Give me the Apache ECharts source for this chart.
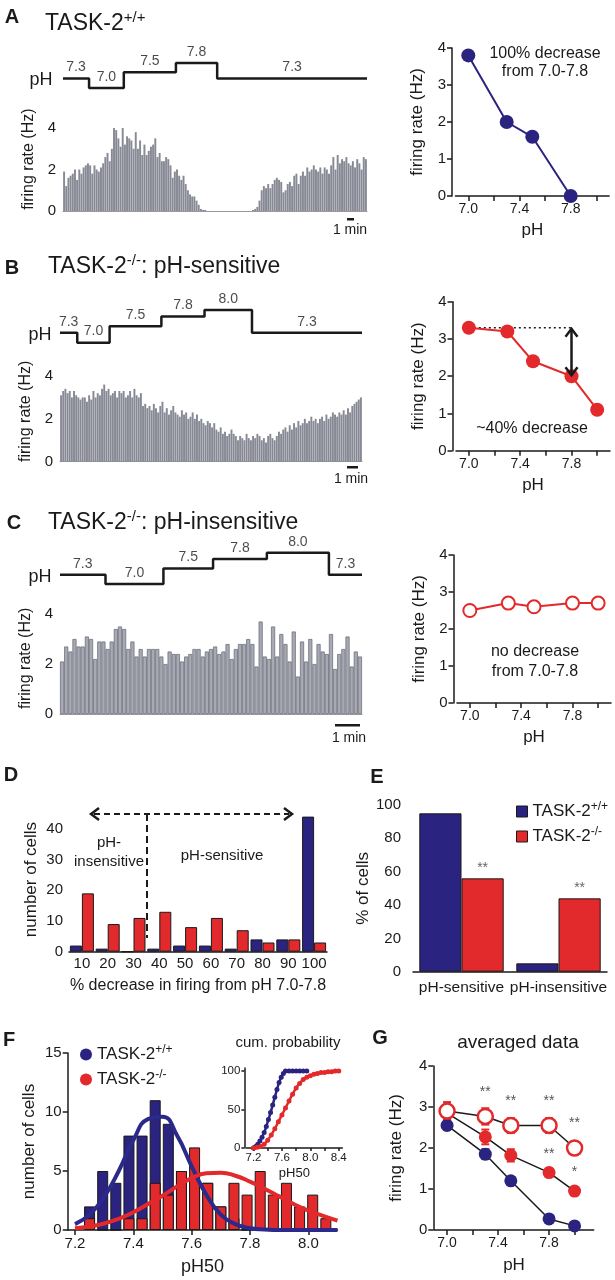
<!DOCTYPE html>
<html>
<head>
<meta charset="utf-8">
<script src="https://cdn.jsdelivr.net/npm/echarts@6/dist/echarts.min.js"></script>
<style>
  html, body { margin: 0; padding: 0; background: #fff; }
  #chart { width: 615px; height: 1280px; }
</style>
</head>
<body>
<div id="chart"></div>
<script>
// ---- A: TASK-2+/+ example cell (bins of ~20 s)
const rateA = [1.9,1.2,1.6,1.7,1.8,2.0,1.5,2.0,1.8,2.1,
  2.2,2.3,2.2,1.8,2.2,2.0,1.9,
  2.1,2.3,2.6,2.8,2.4,3.0,
  4.0,3.9,3.5,3.1,4.0,
  3.2,3.6,3.5,3.4,3.0,3.8,
  3.0,3.4,2.7,3.2,
  2.7,2.9,3.1,3.2,3.5,
  2.6,2.8,2.4,2.4,2.6,
  2.5,2.2,1.6,1.9,2.0,1.7,
  1.5,1.7,1.3,1.0,
  0.8,0.7,0.7,0.5,0.3,0.1,
  0.05,0.05,
  0,0,0,0,0,0,0,0,0,0,0,0,0,0,0,0,0,0,0,0,0,
  0.05,0.1,0.2,0.5,
  1.0,1.2,1.1,1.3,1.1,
  1.3,1.5,1.6,1.5,1.4,0.9,
  1.0,1.3,1.4,1.2,1.7,
  1.8,1.3,1.7,1.9,1.7,2.1,
  1.9,2.0,2.2,2.0,1.9,2.1,
  1.8,2.1,2.0,1.8,2.2,2.6,
  2.0,2.7,2.3,2.5,2.4,2.6,2.3,
  2.2,2.4,2.1,2.5,2.3,2.0,2.6,2.5];
const stepsA = [[0, 7.3], [12, 7.0], [28, 7.5], [52, 7.8], [71, 7.3], [140, 7.3]];
const phA = [7.0, 7.3, 7.5, 7.8];
const meanA = [3.8, 2.0, 1.6, 0];

// ---- B: TASK-2-/- pH-sensitive cell
const rateB = [3.1,3.3,3.4,3.2,3.3,3.0,3.3,3.1,3.0,2.9,3.0,3.0,2.8,3.1,2.9,3.3,3.0,3.2,3.1,3.4,
  3.6,3.3,3.4,3.1,3.2,3.3,3.0,3.3,3.2,3.3,3.0,3.1,3.3,3.0,3.4,3.1,3.0,3.2,2.6,2.7,
  2.5,2.6,2.4,2.7,2.5,2.3,2.6,2.8,2.3,2.5,2.2,2.4,2.6,2.3,2.2,2.1,2.4,2.2,2.3,2.0,
  2.1,2.3,2.0,2.2,1.9,2.0,1.8,1.7,1.9,1.8,1.6,1.8,1.5,1.4,1.6,1.3,1.4,1.2,1.3,1.5,
  1.3,1.2,1.0,1.2,1.1,1.0,1.3,1.1,1.0,1.2,1.1,1.3,1.2,1.0,1.1,0.9,1.2,1.3,1.1,1.0,
  1.2,1.4,1.3,1.5,1.6,1.4,1.7,1.5,1.8,1.6,1.9,1.7,1.8,2.0,1.8,1.9,2.1,1.9,2.0,1.8,
  2.0,2.1,1.9,2.2,2.0,2.1,2.3,2.2,2.1,2.3,2.2,2.4,2.2,2.5,2.3,2.6,2.7,2.8,2.9,3.0];
const stepsB = [[0, 7.3], [8, 7.0], [23, 7.5], [47, 7.8], [67, 8.0], [89, 7.3], [140, 7.3]];
const phB = [7.0, 7.3, 7.5, 7.8, 8.0];
const meanB = [3.3, 3.2, 2.4, 2.0, 1.1];

// ---- C: TASK-2-/- pH-insensitive cell
const rateC = [2.1,2.7,2.5,3.0,2.7,2.7,3.1,3.0,2.2,2.9,
  2.9,2.6,2.9,3.4,3.5,3.4,2.6,2.9,2.3,2.6,
  2.3,2.6,2.6,2.6,2.3,2.0,2.5,2.4,2.4,2.1,
  2.3,2.4,2.6,2.6,2.3,2.5,2.6,2.7,2.4,2.5,
  2.8,2.2,2.6,2.8,2.8,3.0,2.8,1.9,3.7,2.3,
  2.2,3.5,2.3,3.2,2.8,2.1,3.3,1.5,2.9,2.1,
  3.0,2.0,2.8,
  2.5,2.4,3.2,1.8,2.4,2.6,3.1,1.9,2.5,2.3];
const stepsC = [[0, 7.3], [11, 7.0], [25, 7.5], [37, 7.8], [50, 8.0], [65, 7.3], [73, 7.3]];
const phC = [7.0, 7.3, 7.5, 7.8, 8.0];
const meanC = [2.5, 2.7, 2.6, 2.7, 2.7];

// ---- D: % decrease histogram
const decreaseBins = ['10', '20', '30', '40', '50', '60', '70', '80', '90', '100'];
const cellsWT = [2, 1, 0, 1, 2, 2, 1, 4, 4, 44];
const cellsKO = [19, 9, 11, 13, 8, 11, 7, 3, 4, 3];

// ---- E: % of cells
const groupsE = ['pH-sensitive', 'pH-insensitive'];
const pctWT = [95, 5];
const pctKO = [56, 44];
const sigE = ['**', '**'];

// ---- F: pH50 histogram, fits, cumulative probability
const pH50Bins = [7.25, 7.295, 7.34, 7.385, 7.43, 7.475, 7.52, 7.565, 7.61, 7.655,
  7.70, 7.745, 7.79, 7.835, 7.88, 7.925, 7.97, 8.015, 8.06];
const countWT = [2, 5, 4, 8, 8, 11, 9, 5, 4, 4, 2, 1, 0, 0, 0, 0, 0, 0, 0];
const countKO = [1, 0, 0, 1, 1, 4, 3, 5, 7, 4, 2, 4, 3, 5, 3, 4, 2, 3, 1];
const fitX = [7.20, 7.25, 7.30, 7.35, 7.40, 7.45, 7.50, 7.55, 7.60, 7.65,
  7.70, 7.75, 7.80, 7.85, 7.90, 7.95, 8.00, 8.05, 8.10];
const fitWT = [0.5, 1.3, 2.8, 5.0, 7.6, 9.4, 9.6, 8.0, 5.4, 3.0, 1.3, 0.5, 0.15, 0.05, 0, 0, 0, 0, 0];
const fitKO = [0.15, 0.3, 0.55, 0.95, 1.5, 2.2, 2.9, 3.7, 4.4, 4.8, 4.85, 4.6, 4.1, 3.5, 2.85, 2.2, 1.65, 1.2, 0.8];
const cumWT = [[7.20,0],[7.23,2],[7.26,5],[7.29,9],[7.32,14],[7.35,20],[7.38,28],[7.41,37],[7.44,46],[7.47,56],
  [7.50,66],[7.53,76],[7.56,85],[7.59,92],[7.62,97],[7.65,100],[7.70,100],[7.75,100],[7.80,100],[7.85,100],[7.90,100],[7.95,100]];
const cumKO = [[7.20,0],[7.25,1],[7.30,2],[7.35,5],[7.40,10],[7.45,17],[7.50,25],[7.55,34],[7.60,43],[7.65,52],
  [7.70,61],[7.75,70],[7.80,78],[7.85,84],[7.90,89],[7.95,92],[8.00,94],[8.05,96],[8.10,97],[8.15,98],
  [8.20,98],[8.25,99],[8.30,99],[8.35,100],[8.40,100]];

// ---- G: averaged data
const phG = [7.0, 7.3, 7.5, 7.8, 8.0];
const avgWT = [2.55, 1.85, 1.2, 0.27, 0.1];
const semWT = [0.1, 0.12, 0.08, 0.05, 0.05];
const avgSens = [2.85, 2.27, 1.82, 1.4, 0.95];
const semSens = [0.15, 0.18, 0.15, 0.1, 0.1];
const avgIns = [2.9, 2.77, 2.55, 2.55, 2.0];
const semIns = [0.22, 0.2, 0.18, 0.18, 0.15];
const starsSens = ['', '', '', '**', '*'];
const starsIns = ['', '**', '**', '**', '**'];

const FF = '"Liberation Sans", Arial, Helvetica, sans-serif';
const NAVY = '#2a2380';
const RED = '#e2292b';
const INK = '#1a1a1a';
const BARGRAY = '#878995';

const chart = echarts.init(document.getElementById('chart'));

function axis(gridIndex, extra) {
  const a = {
    gridIndex,
    nameLocation: 'middle',
    axisLine: { lineStyle: { color: INK, width: 1.5 } },
    axisTick: { length: 5, lineStyle: { color: INK, width: 1.5 } },
    axisLabel: { color: INK, fontSize: 14, fontFamily: FF, margin: 6 },
    splitLine: { show: false },
    nameTextStyle: { color: INK, fontSize: 16, fontFamily: FF },
  };
  for (const k in extra) {
    const v = extra[k];
    if (a[k] && typeof a[k] === 'object' && v && typeof v === 'object' && !Array.isArray(v)) {
      a[k] = Object.assign({}, a[k], v);
    } else {
      a[k] = v;
    }
  }
  return a;
}
const hidden = (gi, min, max) => ({ gridIndex: gi, type: 'value', min, max, show: false });
const pHfmt = v => v.toFixed(1);

function stepLabels(steps) {
  const out = [];
  for (let i = 0; i < steps.length - 1; i++) {
    out.push([(steps[i][0] + steps[i + 1][0]) / 2, steps[i][1]]);
  }
  return out;
}

const grids = [
  { left: 63, top: 53.6, width: 304, height: 37.5 },     // 0 A trace
  { left: 63, top: 107.3, width: 304, height: 103.7 },   // 1 A hist
  { left: 455.5, top: 48, width: 153.6, height: 148 },   // 2 A right
  { left: 60, top: 306.7, width: 302, height: 39.2 },    // 3 B trace
  { left: 60, top: 361, width: 302, height: 100.7 },     // 4 B hist
  { left: 456, top: 301.7, width: 154, height: 149 },    // 5 B right
  { left: 60, top: 549.6, width: 302, height: 37.6 },    // 6 C trace
  { left: 60, top: 602.75, width: 302, height: 111.25 }, // 7 C hist
  { left: 457, top: 555, width: 154, height: 148 },      // 8 C right
  { left: 69, top: 807.4, width: 258, height: 144.3 },   // 9 D
  { left: 413, top: 805, width: 194, height: 166.7 },    // 10 E
  { left: 67.7, top: 1053, width: 269.8, height: 177 },  // 11 F
  { left: 246.4, top: 1068, width: 95.9, height: 80 },   // 12 F inset
  { left: 434.3, top: 1066, width: 159.4, height: 164 }, // 13 G
].map(g => Object.assign({ outerBoundsMode: 'none', containLabel: false }, g));

const xAxes = [];
const yAxes = [];

function traceAxes(gi, n) {
  xAxes[gi] = hidden(gi, 0, n);
  yAxes[gi] = hidden(gi, 6.9, 8.1);
}
function histAxes(gi, values, ymax) {
  xAxes[gi] = axis(gi, {
    type: 'category', data: values.map((_, i) => i),
    axisLine: { lineStyle: { color: '#9a9a9a', width: 1 } },
    axisTick: { show: false }, axisLabel: { show: false },
  });
  yAxes[gi] = axis(gi, {
    type: 'value', min: 0, max: ymax, offset: 2,
    name: 'firing rate (Hz)', nameGap: 24,
    axisLine: { lineStyle: { color: INK, width: 2 } },
    axisTick: { customValues: [0, 2, 4], length: 4, lineStyle: { color: INK, width: 1.5 } },
    axisLabel: { customValues: [0, 2, 4], fontSize: 15, margin: 5 },
  });
}
function rightAxes(gi) {
  xAxes[gi] = axis(gi, {
    type: 'value', min: 6.9, max: 8.1, name: 'pH', nameGap: 26,
    nameTextStyle: { fontSize: 17 },
    axisTick: { customValues: [7.0, 7.2, 7.4, 7.6, 7.8, 8.0] },
    axisLabel: { customValues: [7.0, 7.4, 7.8], formatter: pHfmt },
  });
  yAxes[gi] = axis(gi, {
    type: 'value', min: 0, max: 4, offset: 3.5, name: 'firing rate (Hz)', nameGap: 26,
    nameTextStyle: { fontSize: 17 },
    axisTick: { customValues: [0, 1, 2, 3, 4] },
    axisLabel: { customValues: [0, 1, 2, 3, 4], fontSize: 15 },
  });
}

traceAxes(0, rateA.length); histAxes(1, rateA, 5); rightAxes(2);
traceAxes(3, rateB.length); histAxes(4, rateB, 4.7); rightAxes(5);
traceAxes(6, rateC.length); histAxes(7, rateC, 4.45); rightAxes(8);

xAxes[9] = axis(9, {
  type: 'category', data: decreaseBins,
  name: '% decrease in firing from pH 7.0-7.8', nameGap: 26,
  axisLabel: { fontSize: 15, margin: 5, interval: 0 },
  axisTick: { interval: 0 },
  nameTextStyle: { fontSize: 16 },
});
yAxes[9] = axis(9, {
  type: 'value', min: 0, max: 47, name: 'number of cells', nameGap: 29,
  nameTextStyle: { fontSize: 17 },
  axisTick: { customValues: [0, 10, 20, 30, 40] },
  axisLabel: { customValues: [0, 10, 20, 30, 40], fontSize: 15 },
});

xAxes[10] = axis(10, {
  type: 'category', data: groupsE, axisTick: { show: false },
  axisLabel: { fontSize: 15.5, margin: 8, interval: 0 },
});
yAxes[10] = axis(10, {
  type: 'value', min: 0, max: 100, offset: 6, name: '% of cells', nameGap: 31,
  nameTextStyle: { fontSize: 17 },
  axisTick: { customValues: [0, 20, 40, 60, 80, 100] },
  axisLabel: { customValues: [0, 20, 40, 60, 80, 100], fontSize: 15 },
});

xAxes[11] = axis(11, {
  type: 'value', min: 7.175, max: 8.1, name: 'pH50', nameGap: 28,
  nameTextStyle: { fontSize: 18 },
  axisTick: { customValues: [7.2, 7.4, 7.6, 7.8, 8.0] },
  axisLabel: { customValues: [7.2, 7.4, 7.6, 7.8, 8.0], formatter: pHfmt, fontSize: 15 },
});
yAxes[11] = axis(11, {
  type: 'value', min: 0, max: 15, name: 'number of cells', nameGap: 30,
  nameTextStyle: { fontSize: 17 },
  axisTick: { customValues: [0, 5, 10, 15] },
  axisLabel: { customValues: [0, 5, 10, 15], fontSize: 15 },
});

xAxes[12] = axis(12, {
  type: 'value', min: 7.1, max: 8.45, name: 'pH50', nameGap: 19,
  nameTextStyle: { fontSize: 13 },
  axisTick: { customValues: [7.2, 7.4, 7.6, 7.8, 8.0, 8.2, 8.4], length: 3 },
  axisLabel: { customValues: [7.2, 7.6, 8.0, 8.4], formatter: pHfmt, fontSize: 11.5, margin: 4 },
});
yAxes[12] = axis(12, {
  type: 'value', min: 0, max: 104, offset: 2,
  axisTick: { customValues: [0, 50, 100], length: 3 },
  axisLabel: { customValues: [0, 50, 100], fontSize: 11.5, margin: 4 },
});

xAxes[13] = axis(13, {
  type: 'value', min: 6.9, max: 8.15, name: 'pH', nameGap: 27,
  nameTextStyle: { fontSize: 17 },
  axisTick: { customValues: [7.0, 7.2, 7.4, 7.6, 7.8, 8.0] },
  axisLabel: { customValues: [7.0, 7.4, 7.8], formatter: pHfmt },
});
yAxes[13] = axis(13, {
  type: 'value', min: 0, max: 4, offset: 1, name: 'firing rate (Hz)', nameGap: 28,
  nameTextStyle: { fontSize: 17 },
  axisTick: { customValues: [0, 1, 2, 3, 4] },
  axisLabel: { customValues: [0, 1, 2, 3, 4], fontSize: 15 },
});

const series = [];

function addTrace(gi, steps) {
  series.push({
    type: 'line', xAxisIndex: gi, yAxisIndex: gi, data: steps, step: 'end',
    symbol: 'none', lineStyle: { color: INK, width: 2.5 }, silent: true,
  });
  series.push({
    type: 'scatter', xAxisIndex: gi, yAxisIndex: gi, data: stepLabels(steps), symbolSize: 0,
    label: { show: true, position: 'top', distance: 4, formatter: p => p.value[1].toFixed(1),
      fontSize: 14, fontFamily: FF, color: INK },
  });
}
function addHist(gi, values, wide) {
  series.push({
    type: 'bar', xAxisIndex: gi, yAxisIndex: gi, data: values,
    barCategoryGap: wide ? '0%' : '10%',
    itemStyle: wide ? { color: '#a7a9b3', borderColor: '#6f717d', borderWidth: 0.8 } : { color: BARGRAY },
  });
}
function addDose(gi, xs, ys, color, open) {
  series.push({
    type: 'line', xAxisIndex: gi, yAxisIndex: gi, data: xs.map((x, i) => [x, ys[i]]),
    symbol: 'circle', symbolSize: open ? 13 : 14, clip: false,
    lineStyle: { color, width: 2 },
    itemStyle: open ? { color: '#fff', borderColor: color, borderWidth: 2 } : { color },
  });
}

addTrace(0, stepsA); addHist(1, rateA, false); addDose(2, phA, meanA, NAVY, false);
addTrace(3, stepsB); addHist(4, rateB, false);
series.push({
  type: 'line', xAxisIndex: 5, yAxisIndex: 5, symbol: 'none',
  data: [[phB[0], meanB[0]], [phB[3], meanB[0]]],
  lineStyle: { color: INK, width: 1.5, type: [2, 3] },
});
addDose(5, phB, meanB, RED, false);
series.push({
  type: 'custom', xAxisIndex: 5, yAxisIndex: 5, z: 5,
  data: [[phB[3], meanB[0], meanB[3]]],
  encode: { x: 0, y: [1, 2] },
  renderItem(params, api) {
    const top = api.coord([api.value(0), api.value(1)]);
    const bot = api.coord([api.value(0), api.value(2)]);
    const st = { stroke: INK, lineWidth: 2.5, fill: null };
    return {
      type: 'group', children: [
        { type: 'line', shape: { x1: top[0], y1: top[1] + 1, x2: bot[0], y2: bot[1] - 1 }, style: st },
        { type: 'polyline', shape: { points: [[top[0] - 6, top[1] + 9], [top[0], top[1] + 1], [top[0] + 6, top[1] + 9]] }, style: st },
        { type: 'polyline', shape: { points: [[bot[0] - 6, bot[1] - 9], [bot[0], bot[1] - 1], [bot[0] + 6, bot[1] - 9]] }, style: st },
      ],
    };
  },
});
addTrace(6, stepsC); addHist(7, rateC, true); addDose(8, phC, meanC, RED, true);

// D
series.push({
  type: 'bar', name: 'D-WT', xAxisIndex: 9, yAxisIndex: 9, data: cellsWT,
  barGap: '0%', barCategoryGap: '7%',
  itemStyle: { color: NAVY, borderColor: INK, borderWidth: 1 },
});
series.push({
  type: 'bar', name: 'D-KO', xAxisIndex: 9, yAxisIndex: 9, data: cellsKO,
  barGap: '0%', barCategoryGap: '7%',
  itemStyle: { color: RED, borderColor: INK, borderWidth: 1 },
});

// E
series.push({
  type: 'bar', name: 'TASK-2+/+', xAxisIndex: 10, yAxisIndex: 10, data: pctWT,
  barGap: '0%', barCategoryGap: '13%',
  itemStyle: { color: NAVY, borderColor: INK, borderWidth: 1 },
});
series.push({
  type: 'bar', name: 'TASK-2-/-', xAxisIndex: 10, yAxisIndex: 10, data: pctKO,
  barGap: '0%', barCategoryGap: '13%',
  itemStyle: { color: RED, borderColor: INK, borderWidth: 1 },
  label: { show: true, position: 'top', distance: 3, formatter: p => sigE[p.dataIndex],
    fontSize: 14, color: '#666', fontFamily: FF },
});

// F
series.push({
  type: 'bar', name: 'TASK-2+/+', xAxisIndex: 11, yAxisIndex: 11,
  data: pH50Bins.map((x, i) => [x, countWT[i]]), barWidth: 11, barGap: '-100%',
  itemStyle: { color: NAVY, borderColor: INK, borderWidth: 1 },
});
series.push({
  type: 'bar', name: 'TASK-2-/-', xAxisIndex: 11, yAxisIndex: 11,
  data: pH50Bins.map((x, i) => [x, countKO[i]]), barWidth: 11, barGap: '-100%',
  itemStyle: { color: RED, borderColor: INK, borderWidth: 1 },
});
series.push({
  type: 'line', name: 'fitWT', xAxisIndex: 11, yAxisIndex: 11, smooth: true, symbol: 'none',
  data: fitX.map((x, i) => [x, fitWT[i]]), lineStyle: { color: '#2b2a8c', width: 4 }, z: 4,
});
series.push({
  type: 'line', name: 'fitKO', xAxisIndex: 11, yAxisIndex: 11, smooth: true, symbol: 'none',
  data: fitX.map((x, i) => [x, fitKO[i]]), lineStyle: { color: RED, width: 4 }, z: 5,
});
series.push({
  type: 'line', name: 'cumWT', xAxisIndex: 12, yAxisIndex: 12, smooth: 0.3, data: cumWT,
  symbol: 'circle', symbolSize: 5, lineStyle: { color: NAVY, width: 2.5 }, itemStyle: { color: NAVY },
});
series.push({
  type: 'line', name: 'cumKO', xAxisIndex: 12, yAxisIndex: 12, smooth: 0.3, data: cumKO,
  symbol: 'circle', symbolSize: 5, lineStyle: { color: RED, width: 2.5 }, itemStyle: { color: RED },
});

// G
function errorBars(xs, ys, es, color) {
  return {
    type: 'custom', xAxisIndex: 13, yAxisIndex: 13, z: 1,
    data: xs.map((x, i) => [x, ys[i] - es[i], ys[i] + es[i]]),
    encode: { x: 0, y: [1, 2] },
    renderItem(params, api) {
      const lo = api.coord([api.value(0), api.value(1)]);
      const hi = api.coord([api.value(0), api.value(2)]);
      const st = { stroke: color, lineWidth: 2 };
      return {
        type: 'group', children: [
          { type: 'line', shape: { x1: lo[0], y1: lo[1], x2: hi[0], y2: hi[1] }, style: st },
          { type: 'line', shape: { x1: hi[0] - 4, y1: hi[1], x2: hi[0] + 4, y2: hi[1] }, style: st },
          { type: 'line', shape: { x1: lo[0] - 4, y1: lo[1], x2: lo[0] + 4, y2: lo[1] }, style: st },
        ],
      };
    },
  };
}
series.push(errorBars(phG, avgWT, semWT, NAVY));
series.push(errorBars(phG, avgSens, semSens, RED));
series.push(errorBars(phG, avgIns, semIns, RED));
const starLabel = (stars, dist) => ({
  show: true, position: 'top', distance: dist, formatter: p => stars[p.dataIndex],
  fontSize: 14, color: '#555', fontFamily: FF,
});
series.push({
  type: 'line', xAxisIndex: 13, yAxisIndex: 13, data: phG.map((x, i) => [x, avgWT[i]]),
  symbol: 'circle', symbolSize: 13, clip: false, z: 3,
  lineStyle: { color: INK, width: 1.5 }, itemStyle: { color: NAVY },
});
series.push({
  type: 'line', xAxisIndex: 13, yAxisIndex: 13, data: phG.map((x, i) => [x, avgSens[i]]),
  symbol: 'circle', symbolSize: 13, clip: false, z: 3,
  lineStyle: { color: INK, width: 1.5 }, itemStyle: { color: RED },
  label: starLabel(starsSens, 5),
});
series.push({
  type: 'line', xAxisIndex: 13, yAxisIndex: 13, data: phG.map((x, i) => [x, avgIns[i]]),
  symbol: 'circle', symbolSize: 15, clip: false, z: 4,
  lineStyle: { color: INK, width: 1.5 },
  itemStyle: { color: '#fff', borderColor: RED, borderWidth: 2.5 },
  label: starLabel(starsIns, 9),
});

// ---- text, letters and annotations
const supRich = (big, small, raise) => ({
  a: { fontSize: big, fontFamily: FF, color: INK, lineHeight: big + 4 },
  s: { fontSize: small, fontFamily: FF, color: INK, lineHeight: small, verticalAlign: 'top', padding: [raise, 0, 0, 0] },
});
const titleRich = supRich(23, 15, 0);
const txt = (x, y, text, size, extra) => ({
  type: 'text', x, y, silent: true,
  style: Object.assign({ text, fontSize: size, fontFamily: FF, fill: INK, align: 'center', verticalAlign: 'middle' }, extra || {}),
});
const letter = (x, y, t) => txt(x, y, t, 20, { fontWeight: 'bold' });
const title = (x, y, text) => ({
  type: 'text', x, y, silent: true,
  style: { text, rich: titleRich, align: 'left', verticalAlign: 'middle', fill: INK },
});
const lineG = (x1, y1, x2, y2, w, dash) => ({
  type: 'line', silent: true, shape: { x1, y1, x2, y2 },
  style: { stroke: INK, lineWidth: w, lineDash: dash || null },
});
const poly = (pts, w) => ({
  type: 'polyline', silent: true, shape: { points: pts },
  style: { stroke: INK, lineWidth: w, fill: null },
});

const graphic = [
  letter(12, 17, 'A'), title(45, 24, '{a|TASK-2}{s|+/+}'),
  letter(12, 268, 'B'), title(48, 267, '{a|TASK-2}{s|-/-}{a|: pH-sensitive}'),
  letter(14, 523, 'C'), title(48, 523, '{a|TASK-2}{s|-/-}{a|: pH-insensitive}'),
  letter(11, 775, 'D'), letter(377, 777, 'E'), letter(9, 1040, 'F'), letter(380, 1038, 'G'),
  txt(41, 80, 'pH', 18), txt(40, 335, 'pH', 18), txt(40, 577, 'pH', 18),
  // scale bars
  { type: 'rect', silent: true, shape: { x: 347, y: 218, width: 7, height: 2.5 }, style: { fill: INK } },
  txt(350, 230, '1 min', 14),
  { type: 'rect', silent: true, shape: { x: 347, y: 466, width: 11, height: 2.5 }, style: { fill: INK } },
  txt(351, 479, '1 min', 14),
  { type: 'rect', silent: true, shape: { x: 335, y: 724, width: 25, height: 2.5 }, style: { fill: INK } },
  txt(349, 738, '1 min', 14),
  // right-panel notes
  txt(545, 54, '100% decrease', 16), txt(545, 72, 'from 7.0-7.8', 16),
  txt(532, 429, '~40% decrease', 16),
  txt(535, 652, 'no decrease', 16), txt(535, 672, 'from 7.0-7.8', 16),
  // D annotations
  lineG(94, 814, 289, 814, 2, [6, 4]),
  poly([[99, 808], [91, 814], [99, 820]], 2.5),
  poly([[284, 808], [292, 814], [284, 820]], 2.5),
  lineG(147, 814, 147, 938, 2, [7, 4]),
  txt(109, 843, 'pH-', 15), txt(109, 862, 'insensitive', 15), txt(222, 856, 'pH-sensitive', 15),
  // F / G titles
  txt(288, 1043, 'cum. probability', 15),
  txt(518, 1043, 'averaged data', 19),
];

const legendRich = supRich(17, 12, 0);
const legendFmt = n => n === 'TASK-2+/+' ? '{a|TASK-2}{s|+/+}' : '{a|TASK-2}{s|-/-}';

chart.setOption({
  animation: false,
  backgroundColor: '#fff',
  textStyle: { fontFamily: FF },
  grid: grids,
  xAxis: xAxes,
  yAxis: yAxes,
  series,
  graphic,
  legend: [
    {
      data: ['TASK-2+/+', 'TASK-2-/-'], orient: 'vertical', left: 511, top: 796,
      icon: 'rect', itemWidth: 11, itemHeight: 11, itemGap: 6, selectedMode: false,
      itemStyle: { borderColor: INK, borderWidth: 1 },
      formatter: legendFmt, textStyle: { rich: legendRich, color: INK },
    },
    {
      data: ['TASK-2+/+', 'TASK-2-/-'], orient: 'vertical', left: 75, top: 1039,
      icon: 'circle', itemWidth: 12, itemHeight: 12, itemGap: 6, selectedMode: false,
      itemStyle: { borderWidth: 0 },
      formatter: legendFmt, textStyle: { rich: legendRich, color: INK },
    },
  ],
});
</script>
</body>
</html>
